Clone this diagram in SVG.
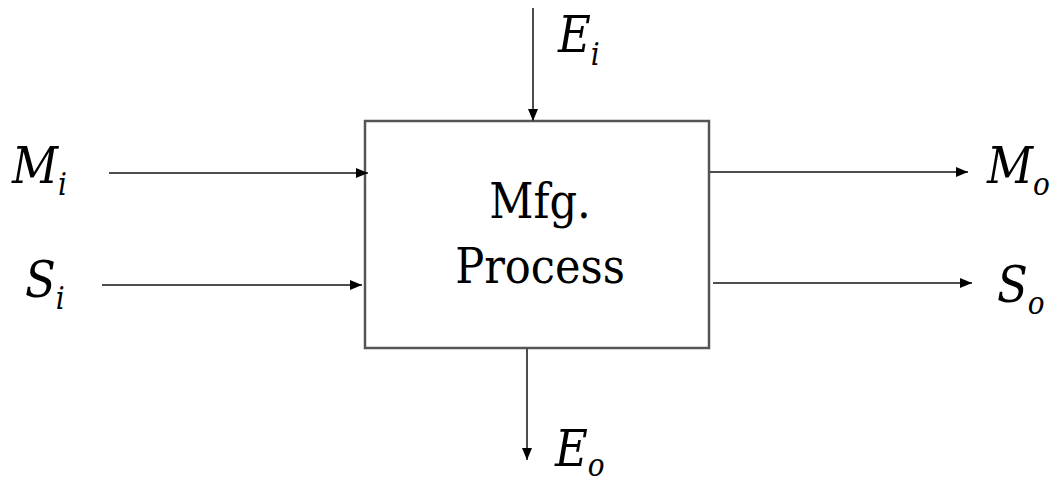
<svg xmlns="http://www.w3.org/2000/svg" width="1059" height="484" viewBox="0 0 1059 484">
<style>
.ln{stroke:#4d4d4d;stroke-width:2;fill:none}
.box{stroke:#555;stroke-width:2.5;fill:#fff}
.lab{font-family:'DejaVu Serif Condensed','DejaVu Serif',serif;font-stretch:condensed;font-style:italic;font-size:50px;fill:#000}
.sub{font-size:31px}
.ctr{font-family:'DejaVu Serif Condensed','DejaVu Serif',serif;font-stretch:condensed;font-size:48px;fill:#000;text-anchor:middle}
</style>
<defs>
<marker id="ah" viewBox="0 0 12 10" refX="12" refY="5" markerWidth="12" markerHeight="10" markerUnits="userSpaceOnUse" orient="auto">
<path d="M0,0 L12,5 L0,10 Z" fill="#000"/>
</marker>
</defs>
<g id="process">
<rect class="box" x="365" y="121" width="344" height="227"/>
<text class="ctr" x="540" y="218">Mfg.</text>
<text class="ctr" x="540" y="283">Process</text>
</g>
<g id="connectors">
<line class="ln" x1="109" y1="173" x2="368" y2="173" marker-end="url(#ah)"/>
<line class="ln" x1="102" y1="285" x2="362" y2="285" marker-end="url(#ah)"/>
<line class="ln" x1="710" y1="172" x2="968" y2="172" marker-end="url(#ah)"/>
<line class="ln" x1="713" y1="283" x2="972" y2="283" marker-end="url(#ah)"/>
<line class="ln" x1="533" y1="8" x2="533" y2="121" marker-end="url(#ah)"/>
<line class="ln" x1="527" y1="348" x2="527" y2="460" marker-end="url(#ah)"/>
</g>
<g id="label-Mi"><text class="lab" x="12" y="183">M<tspan class="sub" dy="12">i</tspan></text></g>
<g id="label-Si"><text class="lab" x="25" y="297">S<tspan class="sub" dy="12">i</tspan></text></g>
<g id="label-Mo"><text class="lab" x="987" y="183">M<tspan class="sub" dy="12">o</tspan></text></g>
<g id="label-So"><text class="lab" x="997" y="302">S<tspan class="sub" dy="12">o</tspan></text></g>
<g id="label-Ei"><text class="lab" x="558" y="52">E<tspan class="sub" dy="13">i</tspan></text></g>
<g id="label-Eo"><text class="lab" x="555" y="466">E<tspan class="sub" dy="10">o</tspan></text></g>
</svg>
